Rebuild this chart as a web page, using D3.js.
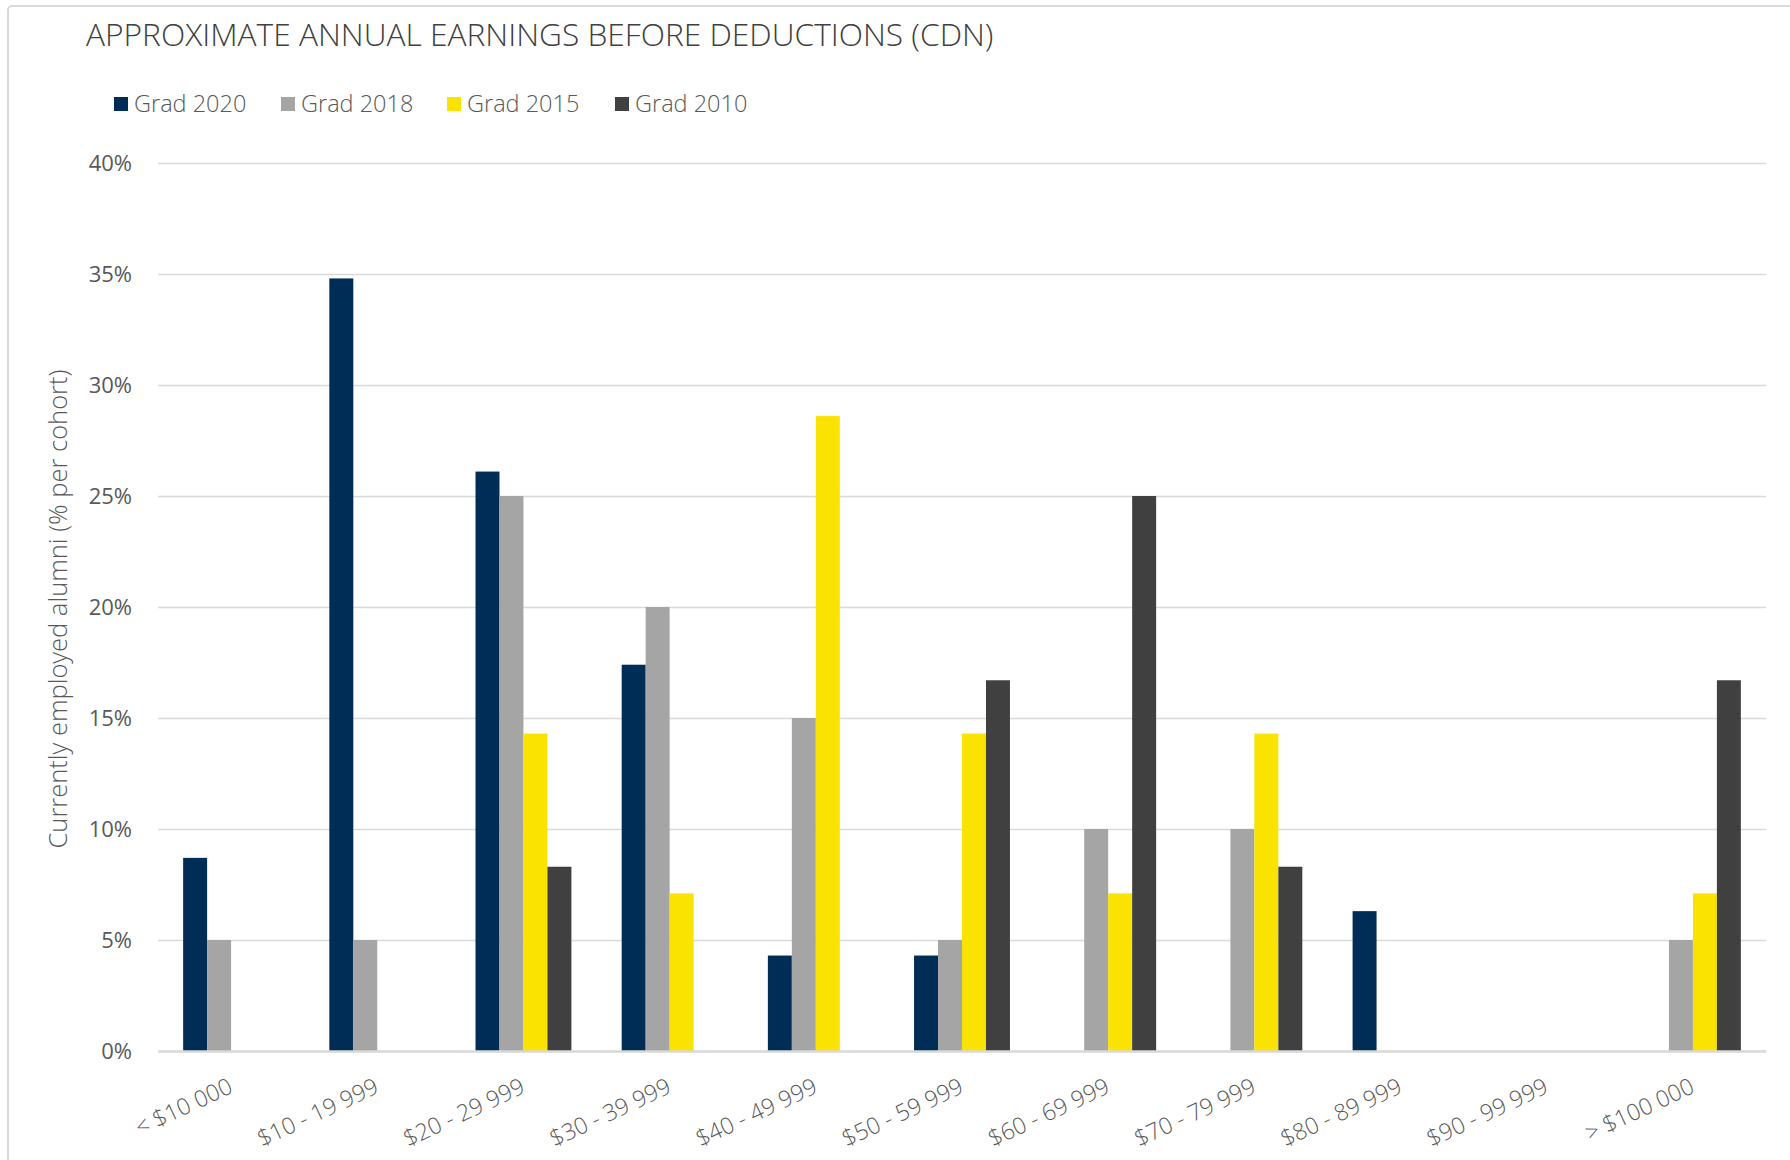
<!DOCTYPE html>
<html>
<head>
<meta charset="utf-8">
<script src="https://cdn.jsdelivr.net/npm/d3@7"></script>
<style>
  body { margin: 0; background: #fff; }
  text { font-family: "Open Sans", "Noto Sans", sans-serif; }
</style>
</head>
<body>
<svg id="chart" width="1790" height="1160"></svg>
<script>
// data
const categories = ["< $10 000", "$10 - 19 999", "$20 - 29 999", "$30 - 39 999", "$40 - 49 999",
  "$50 - 59 999", "$60 - 69 999", "$70 - 79 999", "$80 - 89 999", "$90 - 99 999", "> $100 000"];
const seriesNames = ["Grad 2020", "Grad 2018", "Grad 2015", "Grad 2010"];
const grad2020 = [8.7, 34.8, 26.1, 17.4, 4.3, 4.3, 0, 0, 6.3, 0, 0];
const grad2018 = [5, 5, 25, 20, 15, 5, 10, 10, 0, 0, 5];
const grad2015 = [0, 0, 14.3, 7.1, 28.6, 14.3, 7.1, 14.3, 0, 0, 7.1];
const grad2010 = [0, 0, 8.3, 0, 0, 16.7, 25, 8.3, 0, 0, 16.7];
const yTicks = [0, 5, 10, 15, 20, 25, 30, 35, 40];
const colors = ["#002d56", "#a5a5a5", "#fae300", "#404040"];

const values = [grad2020, grad2018, grad2015, grad2010];
const rows = categories.map((c, i) => ({
  cat: c,
  vals: seriesNames.map((s, k) => ({ key: s, value: values[k][i] }))
}));

const svg = d3.select("#chart");
const plotL = 158, plotR = 1766, plotT = 163, plotB = 1051;

// chart area border
svg.append("rect")
  .attr("x", 8).attr("y", 6)
  .attr("width", 1800).attr("height", 1180)
  .attr("rx", 4)
  .attr("fill", "#fff")
  .attr("stroke", "#d9d9d9")
  .attr("stroke-width", 2);

const y = d3.scaleLinear().domain([0, 40]).range([plotB, plotT]);
const x0 = d3.scaleBand().domain(categories).range([plotL, plotR])
  .paddingInner(0.344).paddingOuter(0.172);
const x1 = d3.scaleBand().domain(seriesNames).range([0, x0.bandwidth()]);
const color = d3.scaleOrdinal().domain(seriesNames).range(colors);

// gridlines
svg.append("g")
  .attr("transform", `translate(${plotL},0)`)
  .call(d3.axisLeft(y).tickValues(yTicks).tickSize(-(plotR - plotL)).tickFormat(""))
  .call(g => g.select(".domain").remove())
  .selectAll("line")
  .attr("stroke", "#d9d9d9")
  .attr("stroke-width", 1.5);

// y tick labels
svg.append("g")
  .attr("transform", `translate(${plotL},0)`)
  .call(d3.axisLeft(y).tickValues(yTicks).tickSize(0).tickPadding(26).tickFormat(d => d + "%"))
  .call(g => g.select(".domain").remove())
  .selectAll("text")
  .attr("fill", "#595959")
  .style("font-size", "22px");

// bars
svg.append("g")
  .selectAll("g")
  .data(rows)
  .join("g")
  .attr("transform", d => `translate(${x0(d.cat)},0)`)
  .selectAll("rect")
  .data(d => d.vals)
  .join("rect")
  .attr("x", d => x1(d.key))
  .attr("width", x1.bandwidth())
  .attr("y", d => y(d.value))
  .attr("height", d => y(0) - y(d.value))
  .attr("fill", d => color(d.key));

// x axis
const xa = svg.append("g")
  .attr("transform", `translate(0,${plotB})`)
  .call(d3.axisBottom(x0).tickSize(0).tickFormat(d => d));
xa.select(".domain")
  .attr("stroke", "#d9d9d9")
  .attr("stroke-width", 2.5);
xa.selectAll("text")
  .attr("fill", "#595959")
  .style("font-size", "23px")
  .style("font-weight", 300)
  .attr("text-anchor", "end")
  .attr("dy", 0)
  .attr("y", 0)
  .attr("transform", "translate(3,41) rotate(-25)");

// y axis title
svg.append("text")
  .attr("transform", `translate(67,609) rotate(-90)`)
  .attr("text-anchor", "middle")
  .attr("fill", "#595959")
  .style("font-size", "25.5px")
  .style("font-weight", 300)
  .text("Currently employed alumni (% per cohort)");

// title
svg.append("text")
  .attr("x", 86).attr("y", 46)
  .attr("fill", "#404040")
  .style("font-size", "31.7px")
  .style("font-weight", 300)
  .text("APPROXIMATE ANNUAL EARNINGS BEFORE DEDUCTIONS (CDN)");

// legend
const legX = [114, 281, 447, 615];
const leg = svg.append("g")
  .selectAll("g")
  .data(seriesNames)
  .join("g")
  .attr("transform", (d, i) => `translate(${legX[i]},97)`);
leg.append("rect")
  .attr("width", 14).attr("height", 14)
  .attr("fill", d => color(d));
leg.append("text")
  .attr("x", 20).attr("y", 15)
  .attr("fill", "#595959")
  .style("font-size", "23.5px")
  .style("font-weight", 300)
  .text(d => d);
</script>
</body>
</html>
